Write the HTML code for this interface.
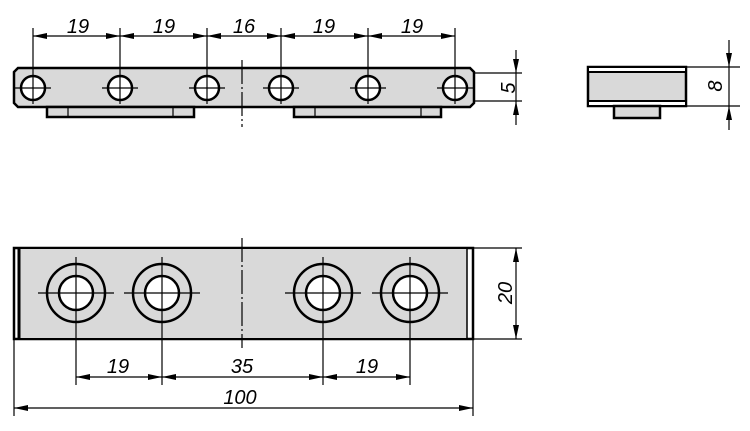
<!DOCTYPE html>
<html><head><meta charset="utf-8"><style>
html,body{margin:0;padding:0;background:#fff;width:750px;height:431px;overflow:hidden}
text{font-family:"Liberation Sans",sans-serif;font-style:italic;font-size:20px;fill:#000}
</style></head><body>
<svg width="750" height="431" viewBox="0 0 750 431" xmlns="http://www.w3.org/2000/svg">
<defs>
<marker id="a" viewBox="0 0 14 6" refX="14" refY="3" markerWidth="14" markerHeight="6" markerUnits="userSpaceOnUse" orient="auto-start-reverse"><path d="M0,0 L14,3 L0,6z" fill="#000"/></marker>
</defs>
<g stroke="#000" fill="none">
<path d="M18,68 L470,68 L474,72 L474,103 L470,107 L18,107 L14,103 L14,72 Z" fill="#d9d9d9" stroke-width="2.5"/>
<rect x="47" y="107" width="147" height="10" fill="#d9d9d9" stroke-width="2.5"/>
<line x1="68" y1="107" x2="68" y2="117" stroke-width="1.2"/><line x1="173" y1="107" x2="173" y2="117" stroke-width="1.2"/>
<rect x="294" y="107" width="147" height="10" fill="#d9d9d9" stroke-width="2.5"/>
<line x1="315" y1="107" x2="315" y2="117" stroke-width="1.2"/><line x1="421" y1="107" x2="421" y2="117" stroke-width="1.2"/>
<g stroke-width="2.5" fill="#fff">
<circle cx="33" cy="88" r="12"/><circle cx="120" cy="88" r="12"/><circle cx="207" cy="88" r="12"/>
<circle cx="281" cy="88" r="12"/><circle cx="368" cy="88" r="12"/><circle cx="455" cy="88" r="12"/>
</g>
<g stroke-width="1.2">
<line x1="15" y1="88" x2="51" y2="88"/><line x1="102" y1="88" x2="138" y2="88"/><line x1="189" y1="88" x2="225" y2="88"/>
<line x1="263" y1="88" x2="299" y2="88"/><line x1="350" y1="88" x2="386" y2="88"/><line x1="437" y1="88" x2="473" y2="88"/>
<line x1="33" y1="28" x2="33" y2="104"/><line x1="120" y1="28" x2="120" y2="104"/><line x1="207" y1="28" x2="207" y2="104"/>
<line x1="281" y1="28" x2="281" y2="104"/><line x1="368" y1="28" x2="368" y2="104"/><line x1="455" y1="28" x2="455" y2="104"/>
<line x1="242" y1="60" x2="242" y2="127" stroke-dasharray="24,3,2,3"/>
<line x1="33" y1="36" x2="120" y2="36" marker-start="url(#a)" marker-end="url(#a)"/>
<line x1="120" y1="36" x2="207" y2="36" marker-start="url(#a)" marker-end="url(#a)"/>
<line x1="207" y1="36" x2="281" y2="36" marker-start="url(#a)" marker-end="url(#a)"/>
<line x1="281" y1="36" x2="368" y2="36" marker-start="url(#a)" marker-end="url(#a)"/>
<line x1="368" y1="36" x2="455" y2="36" marker-start="url(#a)" marker-end="url(#a)"/>
<line x1="474" y1="73" x2="522" y2="73"/><line x1="474" y1="101" x2="522" y2="101"/>
<line x1="516" y1="50" x2="516" y2="73" marker-end="url(#a)"/>
<line x1="516" y1="125" x2="516" y2="101" marker-end="url(#a)"/>
<line x1="516" y1="73" x2="516" y2="101"/>
</g>
<rect x="588" y="67" width="98" height="39" fill="#d9d9d9" stroke-width="2.5"/>
<rect x="589" y="68" width="96" height="4" fill="#fff" stroke="none"/>
<rect x="589" y="101" width="96" height="4" fill="#fff" stroke="none"/>
<line x1="588" y1="72" x2="686" y2="72" stroke-width="2"/><line x1="588" y1="101" x2="686" y2="101" stroke-width="2"/>
<rect x="614" y="106" width="46" height="12" fill="#d9d9d9" stroke-width="2.5"/>
<g stroke-width="1.2">
<line x1="686" y1="67" x2="740" y2="67"/><line x1="686" y1="106" x2="740" y2="106"/>
<line x1="729" y1="40" x2="729" y2="67" marker-end="url(#a)"/>
<line x1="729" y1="130" x2="729" y2="106" marker-end="url(#a)"/>
<line x1="729" y1="67" x2="729" y2="106"/>
</g>
<rect x="14" y="248" width="459" height="91" fill="#fff" stroke-width="2.5"/>
<rect x="19" y="249" width="448" height="89" fill="#d9d9d9" stroke="none"/>
<line x1="19" y1="248" x2="19" y2="339" stroke-width="3"/>
<line x1="467" y1="248" x2="467" y2="339" stroke-width="1.5"/>
<g stroke-width="2.5">
<circle cx="76" cy="293" r="29"/><circle cx="76" cy="293" r="17" fill="#fff"/>
<circle cx="162" cy="293" r="29"/><circle cx="162" cy="293" r="17" fill="#fff"/>
<circle cx="323" cy="293" r="29"/><circle cx="323" cy="293" r="17" fill="#fff"/>
<circle cx="410" cy="293" r="29"/><circle cx="410" cy="293" r="17" fill="#fff"/>
</g>
<g stroke-width="1.2">
<line x1="38" y1="293" x2="114" y2="293"/><line x1="124" y1="293" x2="200" y2="293"/>
<line x1="285" y1="293" x2="361" y2="293"/><line x1="372" y1="293" x2="448" y2="293"/>
<line x1="76" y1="257" x2="76" y2="385"/><line x1="162" y1="257" x2="162" y2="385"/>
<line x1="323" y1="257" x2="323" y2="385"/><line x1="410" y1="257" x2="410" y2="385"/>
<line x1="242" y1="238" x2="242" y2="348" stroke-dasharray="24,3,2,3"/>
<line x1="14" y1="339" x2="14" y2="416"/><line x1="473" y1="339" x2="473" y2="416"/>
<line x1="76" y1="377" x2="162" y2="377" marker-start="url(#a)" marker-end="url(#a)"/>
<line x1="162" y1="377" x2="323" y2="377" marker-start="url(#a)" marker-end="url(#a)"/>
<line x1="323" y1="377" x2="410" y2="377" marker-start="url(#a)" marker-end="url(#a)"/>
<line x1="14" y1="408" x2="473" y2="408" marker-start="url(#a)" marker-end="url(#a)"/>
<line x1="473" y1="248" x2="522" y2="248"/><line x1="473" y1="339" x2="522" y2="339"/>
<line x1="516" y1="248" x2="516" y2="339" marker-start="url(#a)" marker-end="url(#a)"/>
</g>
</g>
<g text-anchor="middle">
<text x="78" y="33">19</text><text x="164" y="33">19</text><text x="244" y="33">16</text>
<text x="324" y="33">19</text><text x="412" y="33">19</text>
<text x="118" y="373">19</text><text x="242" y="373">35</text><text x="367" y="373">19</text>
<text x="240" y="404">100</text>
<text transform="translate(515,88) rotate(-90)">5</text>
<text transform="translate(722,86) rotate(-90)">8</text>
<text transform="translate(512,293) rotate(-90)">20</text>
</g>
</svg>
</body></html>
